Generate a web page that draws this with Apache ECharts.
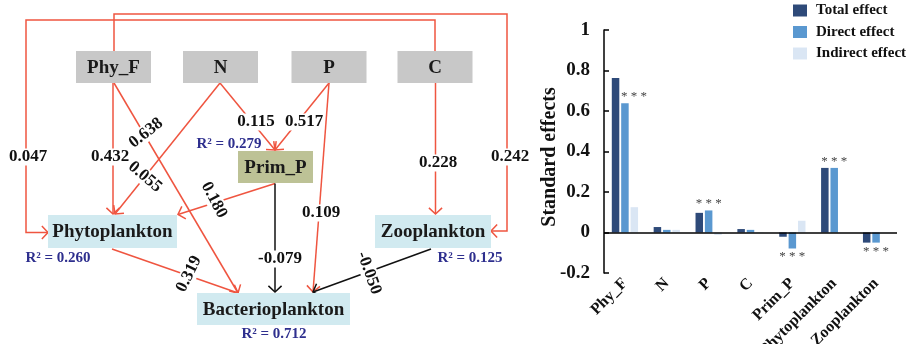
<!DOCTYPE html>
<html><head><meta charset="utf-8">
<script src="https://cdn.jsdelivr.net/npm/echarts@6/dist/echarts.min.js"></script>
<style>html,body{margin:0;padding:0;background:#fff}#c{width:910px;height:344px}</style>
</head><body><div id="c"></div>
<script>
// ---------- Bar chart data ----------
const categories = ['Phy_F', 'N', 'P', 'C', 'Prim_P', 'Phytoplankton', 'Zooplankton'];
const totalEffect = [0.763, 0.027, 0.097, 0.017, -0.021, 0.319, -0.050];
const directEffect = [0.638, 0.013, 0.109, 0.013, -0.079, 0.319, -0.050];
const indirectEffect = [0.125, 0.013, -0.012, 0.002, 0.058, 0, 0];
const directSignificant = [true, false, true, false, true, true, true];
const yAxisMin = -0.2, yAxisMax = 1, yAxisStep = 0.2;
const seriesNames = ['Total effect', 'Direct effect', 'Indirect effect'];

// ---------- Path diagram data ----------
const nodeNames = ['Phy_F', 'N', 'P', 'C', 'Prim_P', 'Phytoplankton', 'Zooplankton', 'Bacterioplankton'];
const nodeKinds = ['driver', 'driver', 'driver', 'driver', 'mediator', 'response', 'response', 'response'];
const pathFrom = ['Phy_F', 'Phy_F', 'Phy_F', 'N', 'N', 'P', 'P', 'C', 'C', 'Prim_P', 'Prim_P', 'Phytoplankton', 'Zooplankton'];
const pathTo = ['Phytoplankton', 'Bacterioplankton', 'Zooplankton', 'Phytoplankton', 'Prim_P', 'Prim_P', 'Bacterioplankton', 'Phytoplankton', 'Zooplankton', 'Phytoplankton', 'Bacterioplankton', 'Bacterioplankton', 'Bacterioplankton'];
const pathCoef = [0.432, 0.638, 0.242, 0.055, 0.115, 0.517, 0.109, 0.047, 0.228, 0.180, -0.079, 0.319, -0.050];
const r2Nodes = ['Prim_P', 'Phytoplankton', 'Zooplankton', 'Bacterioplankton'];
const r2Values = ['0.279', '0.260', '0.125', '0.712'];

// ---------- Diagram layout (drawing units of the hidden diagram axes) ----------
const layoutNodeCenter = [[113.5, 67], [220.5, 67], [329, 67], [435, 67], [275.5, 167], [112.5, 231.5], [433, 231.5], [273.5, 309]];
const layoutNodeSize = [[75, 32], [75, 32], [75, 32], [75, 32], [75, 32], [129, 33], [116, 33], [153, 32]];
const layoutRoutes = [
  [[113, 83], [113, 214]],
  [[114, 83], [238, 293]],
  [[114, 51], [114, 14], [507, 14], [507, 231], [491, 231]],
  [[220, 83], [115, 214]],
  [[220, 83], [275, 150]],
  [[329, 83], [275, 150]],
  [[329, 83], [313, 292]],
  [[435, 51], [435, 20], [26, 20], [26, 232.5], [48, 232.5]],
  [[435.5, 83], [435.5, 214]],
  [[275, 183.5], [178, 214.5]],
  [[275, 183.5], [275, 292]],
  [[112, 249], [238, 293]],
  [[431, 249], [313, 292]]
];
const layoutCoefPos = [[110, 157], [146, 133], [510, 157], [145, 177], [256, 122], [304, 122], [321, 213], [28, 157], [438, 163], [214, 200], [280, 259], [189, 274], [369, 273]];
const layoutCoefRotate = [0, 38, 0, -40, 0, 0, 0, 0, 0, -62, 0, 64, -70];
const layoutR2Pos = [[229, 144], [58, 258], [470, 258], [274, 334]];

const RED = '#ef5540', BLACK = '#111111';
const SERIF = "'Liberation Serif', 'Times New Roman', serif";
const kindColor = { driver: '#c8c8c8', mediator: '#bdc296', response: '#d1eaf0' };

const chart = echarts.init(document.getElementById('c'), null, { renderer: 'canvas' });

const edgeSeries = {
  type: 'custom', xAxisIndex: 0, yAxisIndex: 0, clip: false, silent: true, z: 2,
  data: pathCoef.map((c, i) => [i, c]),
  renderItem: function (params, api) {
    const i = api.value(0);
    const pts = layoutRoutes[i].map(p => api.coord(p));
    const n = pts.length;
    const p2 = pts[n - 1], p1 = pts[n - 2];
    const ang = Math.atan2(p2[1] - p1[1], p2[0] - p1[0]);
    const L = 9, A = 0.82;
    const a1 = [p2[0] - L * Math.cos(ang - A), p2[1] - L * Math.sin(ang - A)];
    const a2 = [p2[0] - L * Math.cos(ang + A), p2[1] - L * Math.sin(ang + A)];
    const color = api.value(1) >= 0 ? RED : BLACK;
    return {
      type: 'group', children: [
        { type: 'polyline', shape: { points: pts }, style: { stroke: color, lineWidth: 1.5, fill: null } },
        { type: 'polyline', shape: { points: [a1, p2, a2] }, style: { stroke: color, lineWidth: 1.5, fill: null } }
      ]
    };
  }
};

const coefSeries = {
  type: 'custom', xAxisIndex: 0, yAxisIndex: 0, clip: false, silent: true, z: 3,
  data: pathCoef.map((c, i) => [i, c]),
  renderItem: function (params, api) {
    const i = api.value(0);
    const p = api.coord(layoutCoefPos[i]);
    return {
      type: 'text', x: p[0], y: p[1], rotation: layoutCoefRotate[i] * Math.PI / 180,
      style: {
        text: pathCoef[i].toFixed(3), font: 'bold 17px ' + SERIF, fill: '#111',
        align: 'center', verticalAlign: 'middle', backgroundColor: '#fff', padding: [0, 1]
      }
    };
  }
};

const nodeSeries = {
  type: 'custom', xAxisIndex: 0, yAxisIndex: 0, clip: false, silent: true, z: 4,
  data: nodeNames.map((n, i) => [i, 0]),
  renderItem: function (params, api) {
    const i = api.value(0);
    const c = api.coord(layoutNodeCenter[i]);
    const s = api.size(layoutNodeSize[i]);
    return {
      type: 'group', children: [
        { type: 'rect', shape: { x: c[0] - s[0] / 2, y: c[1] - s[1] / 2, width: s[0], height: s[1] }, style: { fill: kindColor[nodeKinds[i]] } },
        { type: 'text', x: c[0], y: c[1] + 1, style: { text: nodeNames[i], font: 'bold 19px ' + SERIF, fill: '#1a1a1a', align: 'center', verticalAlign: 'middle' } }
      ]
    };
  }
};

const r2Series = {
  type: 'custom', xAxisIndex: 0, yAxisIndex: 0, clip: false, silent: true, z: 4,
  data: r2Nodes.map((n, i) => [i, 0]),
  renderItem: function (params, api) {
    const i = api.value(0);
    const p = api.coord(layoutR2Pos[i]);
    return {
      type: 'text', x: p[0], y: p[1],
      style: { text: 'R\u00b2 = ' + r2Values[i], font: 'bold 15px ' + SERIF, fill: '#2e2f8e', align: 'center', verticalAlign: 'middle' }
    };
  }
};

const barColors = ['#2e4a79', '#5a98d0', '#dae6f4'];
const directData = directEffect.map((v, i) => ({
  value: v,
  label: {
    show: directSignificant[i],
    position: v >= 0 ? 'top' : 'bottom',
    distance: v >= 0 ? 0 : 2,
    offset: i === 0 ? [9, 0] : [0, 0]
  }
}));

const option = {
  animation: false,
  backgroundColor: '#fff',
  grid: [
    { left: 0, top: 0, width: 560, height: 344, outerBoundsMode: 'none', containLabel: false },
    { left: 604, top: 30, width: 293, height: 243, outerBoundsMode: 'none', containLabel: false }
  ],
  xAxis: [
    { gridIndex: 0, type: 'value', min: 0, max: 560, show: false },
    {
      gridIndex: 1, type: 'category', data: categories, position: 'bottom',
      axisLine: { show: false, onZero: false }, axisTick: { show: false },
      axisLabel: { rotate: 45, interval: 0, margin: 8, color: '#111', fontFamily: SERIF, fontWeight: 'bold', fontSize: 16 }
    }
  ],
  yAxis: [
    { gridIndex: 0, type: 'value', min: 0, max: 344, inverse: true, show: false },
    {
      gridIndex: 1, type: 'value', min: yAxisMin, max: yAxisMax, interval: yAxisStep,
      axisLine: { show: true, lineStyle: { color: '#000', width: 1.5 } },
      axisTick: { show: true, inside: true, length: 5, lineStyle: { color: '#000', width: 1.5 } },
      splitLine: { show: false },
      axisLabel: { margin: 14, color: '#111', fontFamily: SERIF, fontWeight: 'bold', fontSize: 19, formatter: v => String(Math.round(v * 10) / 10) }
    }
  ],
  legend: {
    orient: 'vertical', left: 793, top: 3, padding: 0, itemWidth: 14, itemHeight: 12, itemGap: 6.5, icon: 'rect',
    data: seriesNames,
    textStyle: { color: '#111', fontFamily: SERIF, fontWeight: 'bold', fontSize: 15, padding: [0, 0, 0, 4] }
  },
  graphic: [
    { type: 'text', x: 550, y: 157, rotation: Math.PI / 2, silent: true,
      style: { text: 'Standard effects', font: 'bold 20px ' + SERIF, fill: '#111', align: 'center', verticalAlign: 'middle' } }
  ],
  series: [
    edgeSeries, coefSeries, nodeSeries, r2Series,
    {
      name: seriesNames[0], type: 'bar', xAxisIndex: 1, yAxisIndex: 1, data: totalEffect,
      barWidth: 7.5, barGap: '25%', itemStyle: { color: barColors[0] },
      markLine: { silent: true, symbol: 'none', label: { show: false }, lineStyle: { color: '#000', width: 1.5, type: 'solid' }, data: [{ yAxis: 0 }] }
    },
    {
      name: seriesNames[1], type: 'bar', xAxisIndex: 1, yAxisIndex: 1, data: directData,
      barWidth: 7.5, barGap: '25%', itemStyle: { color: barColors[1] },
      label: { formatter: '* * *', color: '#444', fontFamily: SERIF, fontSize: 13 }
    },
    {
      name: seriesNames[2], type: 'bar', xAxisIndex: 1, yAxisIndex: 1, data: indirectEffect,
      barWidth: 7.5, barGap: '25%', itemStyle: { color: barColors[2] }
    }
  ]
};
chart.setOption(option);
</script>
</body></html>
